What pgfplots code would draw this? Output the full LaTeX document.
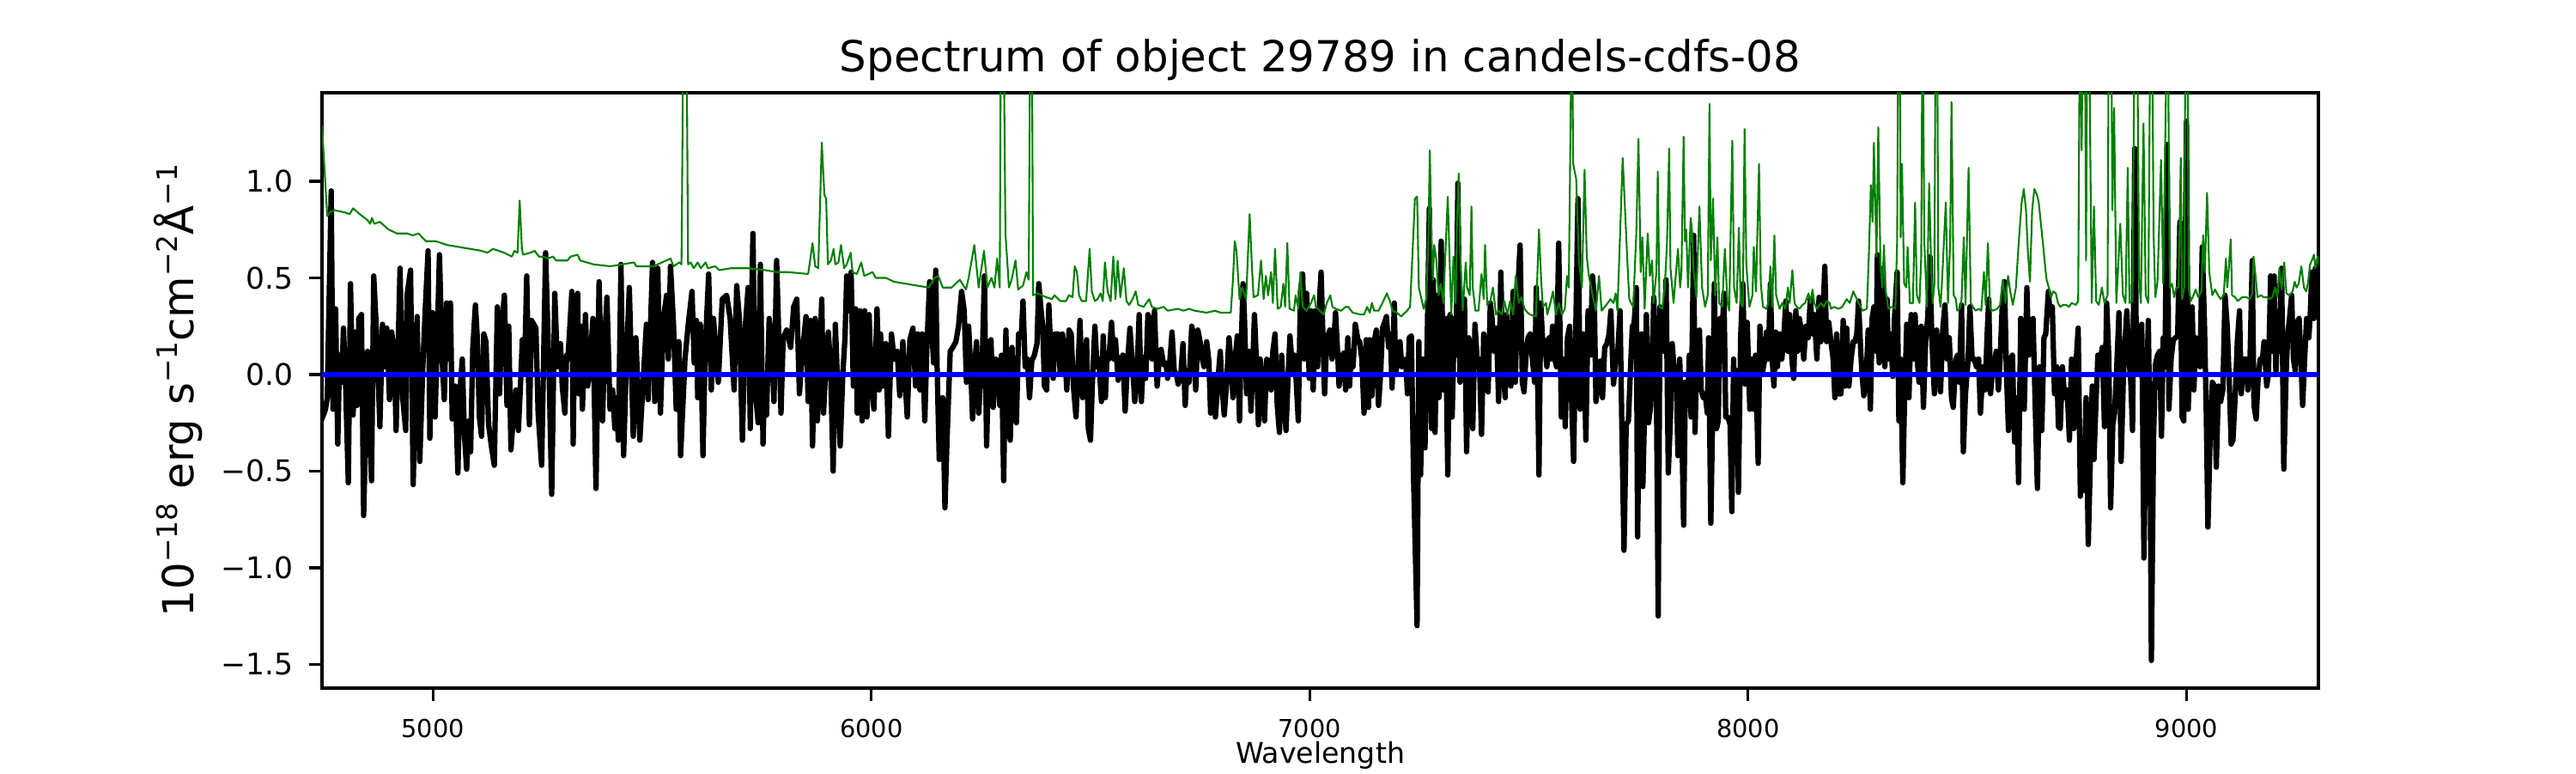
\documentclass[border=0pt]{standalone}
\usepackage{fontspec}
\setmainfont{DejaVu Sans}
\usepackage{pgfplots}
\pgfplotsset{compat=1.18}
\newcommand{\sps}[1]{\raisebox{4.6pt}{\fontsize{7.9}{9}\selectfont #1}}
\begin{document}
\begin{tikzpicture}
\useasboundingbox (0,0) rectangle (10in,3in);
\begin{axis}[
  at={(1.25in,0.33in)}, anchor=south west,
  scale only axis, width=7.75in, height=2.31in,
  xmin=4747, xmax=9301, ymin=-1.623, ymax=1.458,
  axis line style={line width=0.8bp},
  tick align=outside, xtick pos=bottom, ytick pos=left,
  major tick length=3.5bp,
  every tick/.style={black, line width=0.8bp},
  xtick={5000,6000,7000,8000,9000},
  xticklabels={5000,6000,7000,8000,9000},
  ytick={-1.5,-1,-0.5,0,0.5,1},
  yticklabels={−1.5,−1.0,−0.5,0.0,0.5,1.0},
  xticklabel style={font=\fontsize{6.94}{8}\selectfont, yshift=-1.7bp},
  yticklabel style={font=\fontsize{8.33}{10}\selectfont, xshift=-1bp},
  title={Spectrum of object 29789 in candels-cdfs-08},
  title style={font=\fontsize{12}{14}\selectfont, at={(axis description cs:0.5,1)}, anchor=base},
  xlabel={Wavelength},
  xlabel style={font=\fontsize{8}{10}\selectfont, at={(axis description cs:0.5,0)}, anchor=base, inner sep=0.5pt, yshift=-21.1bp},
  ylabel={10\sps{−18} erg s\sps{−1}cm\sps{−2}Å\sps{−1}},
  ylabel style={font=\fontsize{12}{14}\selectfont, at={(axis description cs:-0.0641,0.5)}, anchor=base},
]
% flux (black)
\addplot[black, line width=1.5bp, line join=round] coordinates {
(4745,-0.24) (4755,-0.18) (4759,-0.12) (4768,0.95) (4772,-0.18) (4778,0.34) (4783,-0.36) (4787,0.10) (4792,-0.04) (4796,0.24)
(4801,-0.06) (4807,-0.56) (4812,0.47) (4818,-0.21) (4823,0.22) (4827,-0.16) (4831,0.29) (4837,0.31) (4842,-0.73) (4851,0.12)
(4860,-0.55) (4865,0.51) (4872,0.19) (4879,-0.27) (4885,0.26) (4890,0.04) (4895,0.24) (4901,-0.13) (4906,0.22) (4912,0.10)
(4916,-0.29) (4925,0.55) (4931,-0.12) (4938,-0.29) (4941,0.41) (4949,0.54) (4955,-0.57) (4964,0.30) (4970,-0.45) (4977,0.04)
(4982,0.31) (4989,0.64) (4993,-0.33) (4999,0.32) (5005,-0.22) (5015,0.62) (5021,0.08) (5026,-0.13) (5031,0.37) (5037,0.08)
(5040,0.37) (5044,-0.23) (5051,-0.06) (5057,-0.51) (5061,-0.11) (5067,0.08) (5072,-0.32) (5077,-0.49) (5082,-0.24) (5086,-0.40)
(5091,0.14) (5097,0.36) (5101,0.20) (5106,-0.22) (5111,-0.32) (5116,0.21) (5121,0.17) (5127,-0.26) (5134,-0.38) (5140,-0.47)
(5147,0.35) (5152,-0.10) (5157,0.25) (5163,0.41) (5169,-0.16) (5173,0.25) (5178,-0.39) (5184,-0.20) (5189,-0.08) (5195,-0.29)
(5200,-0.04) (5204,0.18) (5209,0.02) (5214,0.51) (5220,-0.26) (5225,0.28) (5230,0.26) (5235,0.24) (5240,-0.20) (5248,-0.47)
(5257,0.63) (5265,0.01) (5271,-0.62) (5278,0.42) (5284,0.04) (5291,0.16) (5295,-0.06) (5301,-0.20) (5305,0.10) (5308,0.08)
(5317,0.43) (5320,-0.36) (5323,0.23) (5330,0.42) (5333,-0.10) (5338,0.25) (5341,-0.18) (5348,0.31) (5353,-0.06) (5358,0.04)
(5365,0.29) (5372,-0.59) (5379,0.48) (5387,-0.24) (5392,0.19) (5397,0.40) (5404,-0.18) (5410,-0.08) (5415,-0.28) (5419,-0.12)
(5423,-0.34) (5429,0.57) (5435,-0.42) (5441,0.04) (5448,0.45) (5457,-0.32) (5463,0.19) (5472,-0.34) (5487,0.26) (5491,-0.13)
(5501,0.58) (5506,-0.14) (5513,0.55) (5519,-0.20) (5526,0.29) (5533,0.41) (5537,0.08) (5542,0.56) (5549,0.25) (5555,-0.18)
(5561,0.17) (5565,-0.42) (5575,0.08) (5582,0.25) (5591,0.43) (5596,0.06) (5601,0.28) (5604,-0.12) (5610,0.26) (5616,-0.42)
(5621,0.12) (5629,0.52) (5635,-0.08) (5640,0.29) (5651,-0.04) (5660,0.39) (5670,0.41) (5678,0.29) (5687,-0.08) (5693,0.46)
(5699,0.29) (5706,-0.34) (5712,0.23) (5719,0.45) (5724,-0.28) (5727,0.37) (5730,0.73) (5735,-0.08) (5742,-0.25) (5747,0.57)
(5753,-0.36) (5757,0.00) (5761,-0.21) (5767,0.29) (5772,0.17) (5778,-0.14) (5784,0.59) (5794,-0.20) (5799,0.19) (5807,0.23)
(5816,0.14) (5823,0.35) (5830,0.39) (5836,-0.10) (5843,0.12) (5851,0.30) (5856,-0.14) (5861,0.28) (5866,-0.37) (5872,0.29)
(5877,-0.24) (5887,0.39) (5891,-0.20) (5897,0.08) (5902,0.22) (5907,0.04) (5913,-0.50) (5918,0.26) (5923,-0.04) (5929,-0.37)
(5935,0.00) (5940,0.19) (5944,0.51) (5949,0.33) (5954,0.53) (5959,-0.06) (5964,0.34) (5968,-0.20) (5974,0.33) (5979,-0.24)
(5985,0.33) (5990,-0.22) (5995,0.31) (6000,-0.04) (6006,-0.18) (6013,0.34) (6018,-0.08) (6021,0.21) (6027,-0.06) (6033,0.16)
(6039,-0.32) (6046,0.21) (6052,0.08) (6059,0.12) (6065,-0.11) (6072,0.17) (6082,-0.22) (6088,0.18) (6095,0.24) (6101,-0.06)
(6106,0.21) (6111,-0.08) (6116,0.21) (6122,-0.24) (6127,0.16) (6133,0.48) (6137,0.29) (6142,0.06) (6147,0.54) (6150,0.05)
(6155,-0.44) (6160,-0.28) (6163,-0.12) (6168,-0.69) (6173,-0.32) (6180,0.12) (6186,0.14) (6193,0.17) (6199,0.25) (6206,0.43)
(6212,0.33) (6217,-0.04) (6222,0.25) (6227,0.02) (6231,-0.23) (6235,0.02) (6240,0.17) (6245,-0.20) (6250,0.00) (6253,0.06)
(6258,0.51) (6263,-0.37) (6268,0.08) (6273,0.18) (6278,-0.17) (6284,0.08) (6289,0.06) (6293,-0.16) (6297,0.10) (6302,-0.55)
(6307,0.23) (6312,-0.28) (6317,-0.34) (6321,0.14) (6325,-0.14) (6331,-0.25) (6336,0.21) (6342,0.19) (6346,0.38) (6351,0.04)
(6356,0.08) (6361,-0.12) (6366,0.07) (6372,0.10) (6378,0.16) (6382,0.47) (6387,0.34) (6391,0.25) (6395,-0.06) (6400,-0.08)
(6405,0.36) (6410,0.08) (6415,-0.02) (6419,0.21) (6426,0.21) (6431,0.00) (6436,0.21) (6441,0.12) (6446,-0.08) (6451,0.23)
(6456,0.21) (6461,-0.06) (6467,-0.22) (6476,0.28) (6482,-0.12) (6487,-0.10) (6491,0.18) (6495,-0.28) (6500,-0.34) (6504,-0.06)
(6510,0.25) (6515,0.04) (6519,0.08) (6525,-0.14) (6529,0.20) (6534,-0.12) (6538,0.11) (6542,0.08) (6548,0.27) (6553,0.08)
(6557,0.18) (6563,-0.03) (6568,0.08) (6574,0.10) (6579,-0.19) (6585,0.08) (6590,0.24) (6596,0.04) (6601,-0.14) (6606,-0.01)
(6611,0.31) (6616,-0.14) (6621,0.09) (6626,-0.02) (6631,0.31) (6636,0.28) (6640,0.08) (6646,0.33) (6652,-0.06) (6657,0.08)
(6661,0.13) (6667,0.05) (6672,0.06) (6676,-0.02) (6681,0.07) (6686,0.22) (6691,0.02) (6696,0.00) (6700,-0.05) (6706,0.00)
(6711,0.16) (6716,-0.16) (6720,0.02) (6725,-0.04) (6731,0.25) (6735,0.21) (6740,-0.08) (6745,0.23) (6750,0.17) (6755,0.08)
(6759,0.04) (6765,0.17) (6770,0.07) (6774,-0.20) (6781,0.00) (6785,-0.22) (6791,-0.02) (6796,0.12) (6800,-0.06) (6805,-0.21)
(6810,-0.06) (6816,0.19) (6820,0.08) (6825,-0.12) (6830,0.08) (6835,0.20) (6840,-0.24) (6843,0.08) (6848,0.47) (6851,0.31)
(6856,-0.10) (6861,0.12) (6866,-0.19) (6870,0.04) (6874,0.31) (6879,0.04) (6883,-0.26) (6887,0.08) (6892,-0.04) (6897,-0.24)
(6902,0.08) (6906,0.07) (6912,-0.08) (6916,0.12) (6921,0.21) (6926,-0.16) (6931,-0.30) (6936,0.10) (6941,-0.14) (6946,-0.29)
(6951,0.00) (6955,0.20) (6961,0.02) (6966,0.10) (6974,-0.24) (6979,0.43) (6984,0.52) (6988,0.08) (6993,0.42) (6999,-0.02)
(7003,0.33) (7008,-0.08) (7013,0.33) (7018,0.04) (7023,0.41) (7026,0.53) (7034,-0.10) (7039,0.19) (7046,0.23) (7051,0.08)
(7055,0.17) (7059,0.32) (7064,0.10) (7067,-0.06) (7072,0.08) (7077,0.11) (7082,-0.08) (7087,0.19) (7091,-0.06) (7095,0.12)
(7099,0.04) (7104,0.26) (7110,0.18) (7114,0.17) (7119,0.08) (7124,-0.20) (7129,0.18) (7134,-0.17) (7137,0.18) (7142,-0.11)
(7147,0.17) (7152,0.23) (7157,-0.16) (7162,0.01) (7166,0.24) (7171,0.27) (7175,0.30) (7180,0.14) (7184,0.21) (7188,-0.07)
(7193,0.37) (7196,0.00) (7201,0.08) (7206,0.17) (7210,0.04) (7215,0.07) (7219,0.08) (7223,-0.10) (7227,0.19) (7232,0.20)
(7237,-0.54) (7245,-1.30) (7249,0.17) (7253,-0.52) (7258,0.08) (7263,-0.38) (7268,0.17) (7273,0.86) (7278,-0.28) (7282,0.49)
(7286,-0.30) (7291,0.41) (7295,-0.12) (7300,0.69) (7305,-0.08) (7310,0.29) (7315,-0.52) (7320,0.31) (7325,-0.22) (7330,0.29)
(7334,0.10) (7338,0.99) (7343,-0.04) (7348,0.29) (7353,0.39) (7358,-0.40) (7363,0.19) (7367,0.04) (7372,-0.28) (7377,0.26)
(7382,0.08) (7387,0.08) (7392,-0.31) (7397,0.21) (7402,0.08) (7407,-0.09) (7412,0.37) (7416,0.29) (7421,0.12) (7426,0.24)
(7431,-0.14) (7436,0.53) (7441,0.02) (7446,-0.12) (7449,0.31) (7454,0.08) (7459,-0.06) (7464,0.43) (7469,-0.04) (7474,0.41)
(7480,0.67) (7485,-0.04) (7489,-0.09) (7493,0.08) (7498,0.19) (7503,0.21) (7508,0.08) (7513,-0.04) (7517,0.45) (7523,-0.52)
(7527,0.37) (7531,0.19) (7536,0.17) (7541,0.04) (7546,0.19) (7550,0.08) (7554,0.25) (7559,0.08) (7563,0.04) (7568,0.68)
(7574,-0.22) (7578,0.08) (7583,-0.27) (7588,0.19) (7593,0.25) (7598,-0.18) (7602,-0.45) (7608,0.37) (7612,0.91) (7617,-0.18)
(7623,0.21) (7626,0.08) (7630,-0.34) (7635,0.33) (7640,0.10) (7645,0.51) (7649,0.41) (7653,-0.14) (7658,-0.04) (7663,0.07)
(7668,-0.12) (7673,0.14) (7678,0.16) (7683,0.21) (7687,0.33) (7693,-0.05) (7698,0.08) (7702,0.08) (7708,0.33) (7712,-0.26)
(7717,-0.91) (7722,-0.26) (7727,-0.24) (7732,0.04) (7736,0.25) (7740,0.26) (7745,0.45) (7748,-0.84) (7753,0.08) (7757,0.21)
(7760,-0.58) (7764,-0.18) (7768,0.31) (7773,-0.25) (7778,-0.16) (7781,0.06) (7785,0.40) (7791,-0.10) (7795,-1.25) (7799,0.35)
(7804,0.25) (7808,0.12) (7813,0.49) (7818,-0.51) (7823,-0.22) (7827,0.16) (7832,0.00) (7836,0.04) (7840,-0.42) (7844,0.08)
(7848,-0.18) (7853,-0.78) (7857,-0.04) (7863,-0.12) (7866,0.10) (7870,-0.22) (7876,0.72) (7879,-0.30) (7883,0.10) (7889,0.23)
(7893,-0.08) (7898,-0.12) (7902,-0.10) (7907,-0.20) (7910,0.19) (7915,-0.77) (7920,-0.10) (7923,0.47) (7928,-0.28) (7932,-0.24)
(7936,0.29) (7941,0.22) (7945,0.42) (7949,-0.22) (7954,-0.22) (7959,-0.26) (7963,-0.71) (7967,0.08) (7971,-0.40) (7974,0.02)
(7978,-0.61) (7983,0.19) (7988,0.47) (7993,-0.05) (7998,0.27) (8004,-0.18) (8008,0.08) (8013,-0.18) (8017,0.10) (8023,-0.46)
(8027,0.25) (8032,0.00) (8038,0.08) (8042,0.22) (8046,0.08) (8051,0.47) (8055,0.08) (8059,-0.06) (8063,0.22) (8067,0.04)
(8072,0.21) (8077,0.08) (8081,0.17) (8086,0.38) (8091,0.12) (8095,0.31) (8100,0.08) (8104,-0.02) (8109,0.33) (8113,0.12)
(8117,0.29) (8123,0.21) (8127,0.08) (8132,0.25) (8137,0.19) (8142,0.39) (8147,0.21) (8151,0.31) (8157,0.08) (8162,0.40)
(8166,0.17) (8171,0.31) (8175,0.56) (8179,0.17) (8184,0.27) (8189,0.17) (8194,0.08) (8198,-0.12) (8202,0.21) (8207,-0.10)
(8212,-0.10) (8217,0.28) (8221,-0.06) (8225,0.24) (8230,-0.06) (8235,0.08) (8240,0.17) (8244,0.17) (8248,0.21) (8252,0.38)
(8257,0.12) (8260,0.00) (8264,-0.11) (8269,-0.04) (8274,0.23) (8279,-0.18) (8283,0.29) (8287,0.35) (8292,0.12) (8295,0.62)
(8299,0.06) (8304,0.35) (8308,0.55) (8312,0.04) (8317,0.39) (8320,0.08) (8325,0.21) (8330,-0.01) (8334,0.29) (8340,0.53)
(8344,-0.24) (8348,0.08) (8353,-0.56) (8357,-0.12) (8362,0.26) (8367,-0.12) (8372,0.31) (8377,0.08) (8381,0.31) (8385,0.10)
(8390,-0.04) (8395,0.25) (8400,-0.17) (8405,0.17) (8410,0.30) (8415,0.61) (8419,0.19) (8425,-0.10) (8430,0.23) (8434,0.08)
(8439,-0.09) (8444,0.23) (8449,0.36) (8454,0.08) (8459,0.19) (8464,-0.12) (8468,-0.17) (8474,0.08) (8478,0.10) (8482,-0.04)
(8487,0.36) (8491,-0.40) (8496,-0.10) (8502,0.08) (8506,0.35) (8511,0.08) (8516,0.08) (8521,0.04) (8526,0.08) (8530,-0.20)
(8536,0.04) (8541,-0.08) (8545,0.19) (8549,0.39) (8553,-0.10) (8558,0.04) (8562,0.06) (8566,0.12) (8571,-0.08) (8575,0.08)
(8580,0.37) (8585,0.48) (8589,0.04) (8594,-0.29) (8598,0.08) (8603,0.10) (8608,-0.35) (8613,-0.12) (8617,-0.56) (8622,0.29)
(8626,-0.08) (8630,-0.18) (8636,0.45) (8640,0.10) (8645,0.19) (8650,0.29) (8655,-0.16) (8660,-0.59) (8665,0.04) (8670,-0.29)
(8675,0.19) (8679,0.21) (8685,0.43) (8689,0.31) (8694,0.35) (8699,-0.10) (8704,0.04) (8708,-0.27) (8712,-0.28) (8717,0.04)
(8722,-0.12) (8728,-0.08) (8733,-0.34) (8738,0.08) (8743,-0.28) (8747,0.02) (8753,0.24) (8758,-0.63) (8762,-0.44) (8766,-0.60)
(8771,-0.12) (8776,-0.88) (8781,-0.42) (8785,-0.06) (8789,-0.44) (8794,-0.12) (8798,0.10) (8804,0.08) (8808,0.14) (8813,-0.27)
(8818,0.37) (8823,0.08) (8827,-0.69) (8832,-0.26) (8836,-0.20) (8841,0.04) (8846,0.32) (8851,-0.45) (8856,-0.02) (8859,0.14)
(8864,0.33) (8869,0.08) (8873,-0.04) (8877,-0.29) (8882,1.17) (8886,0.00) (8890,0.08) (8894,0.06) (8898,0.26) (8903,-0.95)
(8908,-0.16) (8913,0.28) (8917,-0.40) (8920,-1.48) (8925,-0.32) (8929,0.05) (8934,0.10) (8939,0.12) (8943,-0.32) (8947,0.19)
(8951,0.04) (8956,1.19) (8960,-0.18) (8965,0.08) (8970,0.18) (8975,0.19) (8980,0.20) (8985,0.79) (8990,-0.22) (8994,-0.24)
(9000,1.31) (9004,-0.18) (9009,0.21) (9013,0.35) (9017,-0.08) (9021,0.19) (9026,0.08) (9031,0.04) (9036,0.66) (9041,0.27)
(9045,-0.18) (9049,-0.79) (9054,-0.32) (9059,-0.04) (9064,-0.06) (9068,-0.48) (9073,-0.06) (9078,-0.14) (9083,-0.08) (9088,0.41)
(9093,0.25) (9098,-0.06) (9102,-0.36) (9106,-0.34) (9111,-0.12) (9116,0.17) (9121,0.33) (9125,-0.10) (9130,0.08) (9136,0.08)
(9140,-0.08) (9145,0.08) (9150,0.59) (9154,-0.16) (9159,-0.23) (9163,-0.04) (9168,0.08) (9173,0.07) (9177,0.17) (9183,-0.06)
(9187,0.00) (9192,0.51) (9196,0.12) (9200,0.51) (9204,0.00) (9208,0.31) (9212,0.12) (9217,0.55) (9222,-0.49) (9227,-0.02)
(9231,0.21) (9235,0.29) (9240,0.41) (9244,0.08) (9248,0.02) (9252,0.27) (9257,0.29) (9261,0.08) (9265,-0.16) (9270,0.10)
(9274,0.29) (9279,0.19) (9282,0.29) (9286,0.53) (9291,0.29) (9294,0.55) (9299,0.55) (9303,0.57)
};
% error (green)
\addplot[color={rgb,1:red,0;green,0.5;blue,0}, line width=0.5bp, line join=round] coordinates {
(4747,1.29) (4752,1.09) (4759,0.82) (4765,0.84) (4775,0.85) (4797,0.84) (4810,0.83) (4818,0.86) (4833,0.83) (4850,0.80)
(4857,0.78) (4861,0.81) (4866,0.78) (4879,0.79) (4899,0.75) (4918,0.73) (4941,0.73) (4954,0.72) (4967,0.73) (4984,0.69)
(5006,0.69) (5033,0.67) (5059,0.66) (5085,0.65) (5111,0.64) (5124,0.63) (5137,0.65) (5163,0.63) (5180,0.61) (5186,0.64)
(5193,0.63) (5198,0.90) (5203,0.65) (5206,0.62) (5222,0.63) (5232,0.64) (5242,0.61) (5252,0.61) (5261,0.60) (5274,0.61)
(5281,0.59) (5307,0.59) (5314,0.61) (5330,0.62) (5336,0.59) (5366,0.57) (5405,0.56) (5459,0.58) (5464,0.56) (5503,0.56)
(5542,0.60) (5549,0.56) (5562,0.58) (5567,0.57) (5572,2.0) (5578,2.0) (5582,0.57) (5588,0.58) (5595,0.55) (5604,0.58)
(5611,0.55) (5622,0.58) (5627,0.55) (5644,0.56) (5653,0.54) (5680,0.55) (5719,0.55) (5758,0.54) (5784,0.53) (5810,0.53)
(5856,0.52) (5866,0.68) (5872,0.56) (5879,0.55) (5887,1.20) (5893,0.93) (5897,0.91) (5901,0.57) (5908,0.59) (5914,0.65)
(5918,0.57) (5925,0.58) (5931,0.67) (5938,0.55) (5944,0.57) (5953,0.63) (5957,0.53) (5967,0.52) (5977,0.58) (5984,0.51)
(6003,0.53) (6010,0.50) (6033,0.50) (6052,0.48) (6078,0.47) (6104,0.46) (6131,0.45) (6144,0.50) (6153,0.51) (6163,0.45)
(6183,0.45) (6202,0.49) (6216,0.44) (6222,0.50) (6235,0.67) (6245,0.45) (6257,0.64) (6265,0.45) (6274,0.50) (6281,0.45)
(6287,0.60) (6293,0.45) (6296,2.0) (6301,2.0) (6306,0.73) (6314,0.45) (6320,0.49) (6329,0.59) (6335,0.44) (6346,0.46)
(6354,0.53) (6359,0.49) (6363,2.0) (6366,2.0) (6369,0.41) (6379,0.42) (6399,0.40) (6412,0.39) (6418,0.41) (6431,0.38)
(6444,0.38) (6451,0.41) (6459,0.40) (6464,0.56) (6469,0.53) (6474,0.41) (6480,0.38) (6490,0.38) (6498,0.65) (6503,0.43)
(6510,0.38) (6516,0.39) (6523,0.42) (6528,0.38) (6533,0.58) (6539,0.43) (6546,0.38) (6552,0.61) (6557,0.39) (6562,0.59)
(6568,0.40) (6576,0.55) (6582,0.38) (6588,0.36) (6596,0.39) (6603,0.43) (6609,0.36) (6621,0.35) (6634,0.39) (6640,0.35)
(6653,0.34) (6667,0.35) (6676,0.33) (6699,0.34) (6712,0.33) (6725,0.34) (6738,0.33) (6765,0.32) (6784,0.33) (6797,0.32)
(6820,0.32) (6825,0.49) (6829,0.69) (6833,0.64) (6840,0.39) (6846,0.45) (6855,0.39) (6863,0.83) (6868,0.57) (6872,0.40)
(6882,0.41) (6889,0.59) (6895,0.39) (6900,0.51) (6905,0.41) (6912,0.53) (6916,0.37) (6921,0.65) (6927,0.34) (6934,0.35)
(6940,0.47) (6944,0.35) (6949,0.68) (6954,0.34) (6964,0.33) (6968,0.41) (6974,0.34) (6979,0.53) (6984,0.35) (6993,0.33)
(7003,0.37) (7010,0.41) (7014,0.35) (7019,0.34) (7032,0.31) (7039,0.37) (7047,0.41) (7052,0.35) (7059,0.34) (7072,0.33)
(7082,0.35) (7088,0.35) (7098,0.32) (7117,0.31) (7124,0.31) (7131,0.35) (7137,0.32) (7142,0.37) (7147,0.33) (7157,0.33)
(7166,0.37) (7176,0.42) (7183,0.38) (7189,0.33) (7199,0.32) (7209,0.30) (7222,0.33) (7229,0.35) (7235,0.65) (7240,0.91)
(7245,0.92) (7249,0.45) (7255,0.39) (7260,0.34) (7266,0.39) (7271,0.73) (7274,1.16) (7278,0.69) (7281,0.49) (7284,0.67)
(7289,0.59) (7294,0.41) (7299,0.47) (7305,0.37) (7310,0.65) (7315,0.92) (7320,0.53) (7323,0.31) (7328,0.61) (7333,0.37)
(7336,0.79) (7340,1.04) (7343,0.65) (7349,0.33) (7356,0.58) (7359,0.45) (7365,0.41) (7369,0.87) (7372,0.45) (7378,0.33)
(7385,0.33) (7392,0.52) (7397,0.39) (7400,0.67) (7405,0.36) (7412,0.38) (7418,0.45) (7425,0.31) (7431,0.33) (7438,0.31)
(7444,0.38) (7451,0.31) (7457,0.38) (7464,0.31) (7470,0.51) (7477,0.37) (7483,0.40) (7490,0.34) (7497,0.32) (7503,0.31)
(7516,0.30) (7523,0.75) (7528,0.49) (7532,0.35) (7539,0.37) (7542,0.31) (7549,0.37) (7555,0.43) (7562,0.31) (7568,0.37)
(7575,0.31) (7582,0.34) (7587,0.51) (7591,0.45) (7595,1.29) (7598,2.0) (7601,1.09) (7608,1.01) (7614,0.59) (7621,0.45)
(7627,1.06) (7632,0.61) (7637,0.51) (7647,0.39) (7653,0.33) (7660,0.51) (7666,0.33) (7680,0.37) (7686,0.39) (7693,0.37)
(7698,0.42) (7702,0.33) (7709,0.79) (7714,1.12) (7719,0.87) (7725,0.57) (7729,0.39) (7733,0.37) (7738,0.35) (7745,0.73)
(7750,1.22) (7755,0.53) (7759,0.71) (7764,0.34) (7771,0.73) (7776,0.51) (7781,0.59) (7784,0.37) (7791,0.53) (7794,1.05)
(7798,0.35) (7804,0.34) (7810,0.45) (7815,0.68) (7820,1.17) (7823,0.55) (7830,0.37) (7835,0.51) (7840,0.65) (7845,0.45)
(7848,0.53) (7853,1.23) (7856,0.69) (7859,0.75) (7863,0.45) (7869,0.81) (7872,0.75) (7876,0.53) (7882,0.40) (7889,0.87)
(7895,0.45) (7902,0.35) (7908,0.41) (7912,1.40) (7915,0.59) (7920,0.91) (7925,0.41) (7930,0.71) (7934,0.37) (7941,0.35)
(7947,0.65) (7953,0.37) (7957,0.33) (7964,1.21) (7968,0.45) (7974,0.37) (7979,0.76) (7983,0.37) (7988,0.35) (7992,1.27)
(7996,0.57) (8003,0.35) (8010,0.41) (8013,0.66) (8018,0.43) (8025,1.09) (8029,0.47) (8034,0.35) (8042,0.34) (8046,0.37)
(8051,0.56) (8055,0.35) (8060,0.72) (8064,0.41) (8072,0.34) (8078,0.37) (8085,0.34) (8091,0.45) (8095,0.37) (8101,0.54)
(8106,0.37) (8111,0.35) (8117,0.34) (8124,0.36) (8130,0.37) (8138,0.42) (8142,0.37) (8147,0.44) (8151,0.37) (8157,0.34)
(8166,0.37) (8173,0.35) (8179,0.38) (8186,0.37) (8189,0.34) (8196,0.35) (8206,0.34) (8215,0.35) (8225,0.39) (8232,0.37)
(8240,0.43) (8248,0.39) (8261,0.33) (8271,0.34) (8276,0.65) (8280,0.98) (8284,0.79) (8287,1.20) (8293,0.61) (8297,1.28)
(8302,0.57) (8306,0.45) (8310,0.67) (8313,0.45) (8320,0.34) (8328,0.35) (8336,0.34) (8340,0.69) (8343,2.0) (8346,2.0)
(8348,0.71) (8351,1.09) (8356,0.47) (8361,0.45) (8364,0.66) (8369,0.37) (8376,0.37) (8381,0.89) (8385,0.41) (8391,0.37)
(8395,0.61) (8398,2.0) (8402,0.69) (8408,0.35) (8413,0.99) (8418,0.53) (8421,0.37) (8425,0.47) (8428,2.0) (8431,2.0)
(8434,0.45) (8439,0.35) (8443,0.51) (8451,0.89) (8456,0.37) (8461,0.69) (8464,1.41) (8469,0.41) (8474,0.39) (8477,0.33)
(8483,0.34) (8487,0.39) (8492,0.71) (8496,0.36) (8503,1.07) (8508,0.37) (8513,0.35) (8519,0.33) (8526,0.34) (8532,0.33)
(8538,0.53) (8542,0.36) (8547,0.68) (8552,0.34) (8559,0.33) (8568,0.34) (8575,0.36) (8581,0.49) (8587,0.37) (8593,0.51)
(8598,0.43) (8604,0.36) (8611,0.45) (8617,0.67) (8624,0.89) (8629,0.96) (8634,0.85) (8638,0.65) (8643,0.48) (8648,0.85)
(8653,0.96) (8659,0.93) (8663,0.89) (8668,0.78) (8673,0.67) (8678,0.55) (8681,0.49) (8686,0.45) (8691,0.40) (8696,0.43)
(8702,0.42) (8707,0.37) (8712,0.35) (8719,0.36) (8725,0.36) (8732,0.35) (8738,0.37) (8748,0.36) (8753,0.38) (8757,2.0)
(8761,1.16) (8764,2.0) (8768,2.0) (8771,0.59) (8774,2.0) (8777,2.0) (8784,0.37) (8789,0.87) (8794,0.38) (8800,0.36)
(8807,0.45) (8813,0.37) (8820,0.41) (8823,2.0) (8828,2.0) (8831,0.85) (8835,1.38) (8840,0.37) (8845,0.59) (8849,0.78)
(8855,0.41) (8861,0.37) (8866,1.07) (8870,0.37) (8877,0.38) (8882,2.0) (8887,2.0) (8892,0.49) (8896,0.37) (8902,1.30)
(8907,0.41) (8913,0.37) (8918,2.0) (8921,2.0) (8925,0.73) (8929,0.40) (8934,0.48) (8942,1.11) (8947,0.47) (8953,1.43)
(8957,2.0) (8962,0.45) (8967,0.47) (8972,0.40) (8977,0.45) (8982,0.45) (8987,1.12) (8990,0.39) (8995,0.45) (8998,2.0)
(9002,2.0) (9005,0.45) (9010,0.38) (9016,0.41) (9021,0.44) (9027,0.40) (9034,0.43) (9038,0.72) (9042,0.53) (9047,0.94)
(9052,0.53) (9059,0.41) (9065,0.44) (9072,0.41) (9078,0.39) (9085,0.41) (9090,0.60) (9093,0.45) (9096,0.53) (9101,0.70)
(9104,0.41) (9111,0.40) (9117,0.38) (9127,0.40) (9137,0.40) (9144,0.39) (9150,0.42) (9153,0.61) (9158,0.50) (9162,0.40)
(9170,0.41) (9176,0.40) (9183,0.40) (9189,0.39) (9196,0.40) (9202,0.45) (9207,0.40) (9212,0.55) (9217,0.44) (9223,0.58)
(9228,0.42) (9235,0.41) (9242,0.43) (9247,0.48) (9251,0.45) (9256,0.47) (9262,0.56) (9268,0.45) (9273,0.43) (9277,0.47)
(9282,0.57) (9286,0.59) (9291,0.62) (9294,0.55) (9299,0.61) (9304,0.55)
};
% zero line (blue)
\addplot[blue, line width=1.5bp] coordinates {(4745,0) (9304,0)};
\end{axis}
\end{tikzpicture}
\end{document}
